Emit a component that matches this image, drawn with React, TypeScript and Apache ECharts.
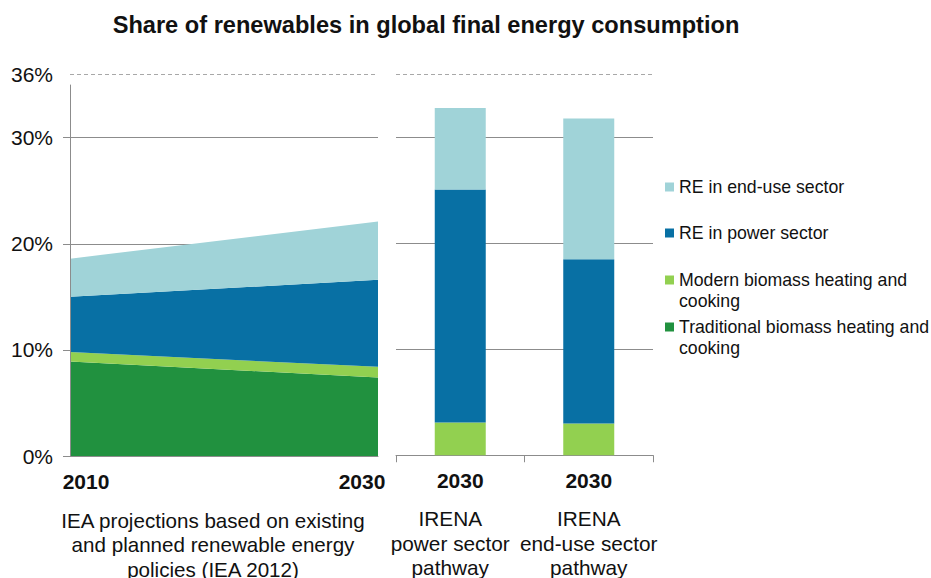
import React, { useEffect, useRef } from 'react';
import * as echarts from 'echarts';

// ---------- data ----------
const chartTitle = 'Share of renewables in global final energy consumption';

const seriesNames = [
  'Traditional biomass heating and cooking',
  'Modern biomass heating and cooking',
  'RE in power sector',
  'RE in end-use sector',
];
const legendLabels = [
  'Traditional biomass heating and\ncooking',
  'Modern biomass heating and\ncooking',
  'RE in power sector',
  'RE in end-use sector',
];

// IEA projections (stacked area), % of final energy consumption
const areaYears = ['2010', '2030'];
const traditionalArea = [8.9, 7.4];
const modernArea = [0.9, 1.0];
const powerArea = [5.2, 8.2];
const endUseArea = [3.6, 5.5];

// IRENA pathways for 2030 (stacked bars)
const irenaCategories = ['power', 'enduse'];
const irenaYear = '2030';
const irenaLabels = [
  ['IRENA', 'power sector', 'pathway'],
  ['IRENA', 'end-use sector', 'pathway'],
];
const modernBar = [3.1, 3.0];
const powerBar = [22.0, 15.5];
const endUseBar = [7.7, 13.3];

const ieaLabel = ['IEA projections based on existing', 'and planned renewable energy', 'policies (IEA 2012)'];

const yLabelValues = [0, 10, 20, 30, 36];
const gridValues = [0, 10, 20, 30];
const yMax = 36;
const axisTop = 35;

// ---------- styles ----------
const FONT = '"Liberation Sans", Arial, Helvetica, sans-serif';
const TEXT = '#111111';
const GRID = '#8c8c8c';
const DASH = '#a8a8a8';
const colors = ['#21913f', '#92d050', '#0870a4', '#a0d3d8'];

export default function App() {
  const ref = useRef<HTMLDivElement>(null);

  useEffect(() => {
    if (!ref.current) return;
    const chart = echarts.init(ref.current, undefined, { renderer: 'svg' });

    const areaData = [traditionalArea, modernArea, powerArea, endUseArea];
    const barData = [null, modernBar, powerBar, endUseBar];

    const areaSeries: any[] = areaData.map((d, i) => ({
      name: seriesNames[i],
      type: 'line',
      xAxisIndex: 0,
      yAxisIndex: 0,
      stack: 'iea',
      data: d,
      symbol: 'none',
      lineStyle: { width: 0, color: colors[i] },
      itemStyle: { color: colors[i] },
      areaStyle: { color: colors[i], opacity: 1 },
      z: 2,
    }));
    areaSeries[0].markLine = {
      silent: true,
      symbol: ['none', 'none'],
      label: { show: false },
      animation: false,
      data: [
        { yAxis: yMax, lineStyle: { type: [4, 3], color: DASH, width: 1 } },
        [
          { coord: [areaYears[0], 0], lineStyle: { type: 'solid', color: GRID, width: 1 } },
          { coord: [areaYears[0], axisTop] },
        ],
      ],
    };

    const barSeries: any[] = [];
    barData.forEach((d, i) => {
      if (!d) return;
      barSeries.push({
        name: seriesNames[i],
        type: 'bar',
        xAxisIndex: 1,
        yAxisIndex: 1,
        stack: 'irena',
        data: d,
        barWidth: 51,
        itemStyle: { color: colors[i] },
      });
    });
    barSeries[0].markLine = {
      silent: true,
      symbol: ['none', 'none'],
      label: { show: false },
      animation: false,
      data: [{ yAxis: yMax, lineStyle: { type: [4, 3], color: DASH, width: 1 } }],
    };

    const legendIconCenters = [327, 280, 233, 187];
    const LH = 20.5;
    const legends = seriesNames.map((name, i) => {
      const multi = legendLabels[i].includes('\n');
      // multi-line labels get a blank first line so that the icon sits beside the first text line
      const text = multi ? '\u00a0\n' + legendLabels[i] : legendLabels[i];
      const lines = text.split('\n').length;
      const top = legendIconCenters[i] - 4.5 - (lines * LH) / 2 + 4.5;
      return {
        show: true,
        data: [name],
        left: 665,
        top,
        padding: 0,
        icon: 'rect',
        itemWidth: 9,
        itemHeight: 9,
        itemGap: 0,
        selectedMode: false,
        formatter: () => text,
        textStyle: { fontFamily: FONT, fontSize: 17.7, lineHeight: LH, color: TEXT },
      };
    });

    const yearStyle = { fontFamily: FONT, fontWeight: 'bold', fontSize: 21, lineHeight: 51, color: TEXT };
    const descStyle = { fontFamily: FONT, fontSize: 20.8, lineHeight: 24.5, color: TEXT };

    chart.setOption({
      animation: false,
      backgroundColor: '#ffffff',
      textStyle: { fontFamily: FONT },
      legend: legends,
      grid: [
        { left: 70, top: 74, width: 308, height: 382 },
        { left: 396, top: 74, width: 257, height: 382 },
      ],
      xAxis: [
        {
          gridIndex: 0,
          type: 'category',
          data: areaYears,
          boundaryGap: false,
          axisLine: { show: true, lineStyle: { color: GRID, width: 1 } },
          axisTick: { show: false },
          axisLabel: {
            margin: 0,
            interval: 0,
            formatter: (v: string, i: number) => (i === 0 ? `{yl|${v}}` : `{yr|${v}}`),
            rich: {
              yl: { ...yearStyle, padding: [0, 0, 0, 32] },
              yr: { ...yearStyle, padding: [0, 32, 0, 0] },
            },
          },
          splitLine: { show: false },
        },
        {
          gridIndex: 1,
          type: 'category',
          data: irenaCategories,
          boundaryGap: true,
          axisLine: { show: true, lineStyle: { color: GRID, width: 1 } },
          axisTick: { show: true, length: 7, lineStyle: { color: GRID } },
          axisLabel: {
            margin: 0,
            interval: 0,
            formatter: (_v: string, i: number) =>
              [`{y|${irenaYear}}`, ...irenaLabels[i].map((s) => (i === 0 ? `{d0|${s}}` : `{d|${s}}`))].join('\n'),
            rich: {
              y: yearStyle,
              d: descStyle,
              d0: { ...descStyle, padding: [0, 20, 0, 0] },
            },
          },
          splitLine: { show: false },
        },
      ],
      yAxis: [
        {
          gridIndex: 0,
          type: 'value',
          min: 0,
          max: yMax,
          interval: 10,
          axisLine: { show: false },
          axisTick: { show: true, length: 7, customValues: gridValues, lineStyle: { color: GRID } },
          axisLabel: {
            customValues: yLabelValues,
            formatter: '{value}%',
            fontFamily: FONT,
            fontSize: 21,
            color: TEXT,
            margin: 17,
          },
          splitLine: { show: true, lineStyle: { color: GRID, width: 1 } },
        },
        {
          gridIndex: 1,
          type: 'value',
          min: 0,
          max: yMax,
          interval: 10,
          axisLine: { show: false },
          axisTick: { show: false, customValues: gridValues },
          axisLabel: { show: false, customValues: gridValues },
          splitLine: { show: true, lineStyle: { color: GRID, width: 1 } },
        },
      ],
      graphic: [
        {
          type: 'text',
          x: 426,
          y: 25,
          style: {
            text: chartTitle,
            font: `bold 23.6px ${FONT}`,
            fill: TEXT,
            textAlign: 'center',
            textVerticalAlign: 'middle',
          },
        },
        {
          type: 'text',
          x: 213,
          y: 507.75,
          style: {
            text: ieaLabel.join('\n'),
            font: `20.6px ${FONT}`,
            lineHeight: 24.5,
            fill: TEXT,
            textAlign: 'center',
            textVerticalAlign: 'top',
          },
        },
      ],
      series: [...areaSeries, ...barSeries],
    });

    return () => chart.dispose();
  }, []);

  return (
    <div
      ref={ref}
      style={{ position: 'fixed', left: 0, top: 0, width: 931, height: 578, background: '#fff' }}
    />
  );
}
